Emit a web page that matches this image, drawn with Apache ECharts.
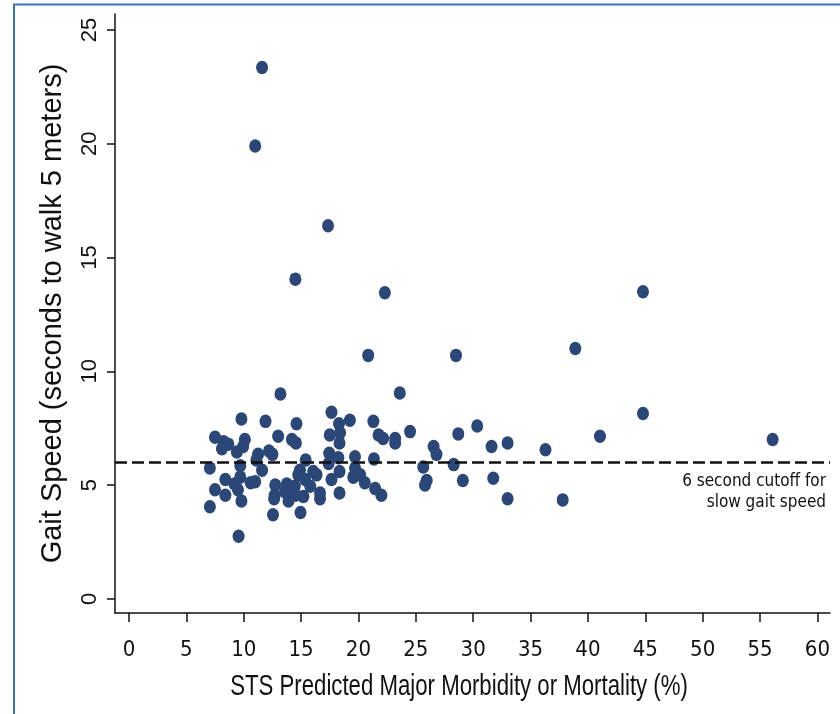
<!DOCTYPE html>
<html>
<head>
<meta charset="utf-8">
<title>Gait speed vs STS predicted risk</title>
<script src="https://cdn.jsdelivr.net/npm/echarts@6/dist/echarts.min.js"></script>
<style>
  html, body { margin: 0; padding: 0; background: #ffffff; }
  #chart { width: 840px; height: 714px; }
</style>
</head>
<body>
<div id="chart"></div>
<script>
// STS predicted major morbidity or mortality (%) for each patient
const stsRisk = [
  11.6, 11.0, 17.35, 14.5, 22.3, 44.8, 20.85, 28.5, 38.9, 13.2,
  23.6, 44.8, 41.05, 56.1, 36.3, 37.8, 33.0, 33.0, 31.6, 31.75,
  30.35, 29.1, 28.7, 28.3, 26.55, 26.8, 25.65, 25.95, 25.8, 24.5,
  23.2, 23.2, 22.15, 21.75, 21.3, 21.35, 21.45, 22.0, 19.25, 18.3,
  17.65, 17.5, 18.4, 18.35, 17.45, 18.25, 19.7, 17.4, 18.35, 17.65,
  19.7, 20.15, 20.55, 19.55, 18.35, 15.4, 14.9, 14.75, 16.05, 16.35,
  15.35, 15.8, 14.45, 15.2, 16.65, 16.65, 14.95, 13.75, 13.6, 13.9,
  14.5, 12.75, 12.7, 12.65, 12.55, 14.6, 14.2, 14.55, 13.0, 11.9,
  9.8, 7.5, 8.25, 8.65, 8.1, 10.1, 9.95, 9.4, 11.25, 12.2,
  12.5, 11.1, 7.05, 9.7, 11.6, 8.4, 7.5, 7.05, 8.4, 9.2,
  9.7, 9.5, 9.8, 9.55, 10.6, 11.0
];
// Seconds to walk 5 meters, same order as stsRisk
const gaitSeconds = [
  23.35, 19.9, 16.4, 14.05, 13.45, 13.5, 10.7, 10.7, 11.0, 9.0,
  9.05, 8.15, 7.15, 7.0, 6.55, 4.35, 4.4, 6.85, 6.7, 5.3,
  7.6, 5.2, 7.25, 5.9, 6.7, 6.35, 5.8, 5.2, 5.0, 7.35,
  7.05, 6.85, 7.05, 7.2, 7.8, 6.15, 4.85, 4.55, 7.85, 7.7,
  8.2, 7.2, 7.3, 6.85, 6.4, 6.2, 6.25, 5.95, 5.6, 5.25,
  5.75, 5.45, 5.1, 5.35, 4.65, 6.1, 5.65, 5.45, 5.6, 5.45,
  5.25, 4.95, 4.95, 4.5, 4.65, 4.4, 3.8, 5.05, 4.7, 4.3,
  4.55, 5.0, 4.55, 4.4, 3.7, 7.7, 7.0, 6.85, 7.15, 7.8,
  7.9, 7.1, 6.9, 6.8, 6.6, 7.0, 6.7, 6.45, 6.35, 6.5,
  6.35, 6.1, 5.75, 5.85, 5.65, 5.25, 4.8, 4.05, 4.55, 5.05,
  5.35, 4.8, 4.3, 2.75, 5.1, 5.15
];

const xTicks = [0, 5, 10, 15, 20, 25, 30, 35, 40, 45, 50, 55, 60];
const yTicks = [0, 5, 10, 15, 20, 25];
const cutoffSeconds = 6;
const cutoffLabel = '6 second cutoff for\nslow gait speed';
const xTitle = 'STS Predicted Major Morbidity or Mortality (%)';
const yTitle = 'Gait Speed (seconds to walk 5 meters)';

const points = stsRisk.map((x, i) => [x, gaitSeconds[i]]);

const narrow = '"Liberation Sans Narrow", "Arial Narrow", "DejaVu Sans Condensed", "Liberation Sans", sans-serif';
const regular = '"Liberation Sans", Arial, sans-serif';
const ink = '#111111';

const chart = echarts.init(document.getElementById('chart'), null, { renderer: 'canvas' });

chart.setOption({
  backgroundColor: '#ffffff',
  animation: false,
  grid: { left: 115, right: 10, top: 14, bottom: 101, containLabel: false },
  xAxis: {
    type: 'value',
    min: -1.22,
    max: 61.1,
    axisLine: { show: true, onZero: false, lineStyle: { color: ink, width: 1.5 } },
    axisTick: { show: true, length: 9, customValues: xTicks, lineStyle: { color: ink, width: 1.5 } },
    axisLabel: { customValues: xTicks, margin: 26, fontFamily: narrow, fontSize: 22, color: ink },
    splitLine: { show: false }
  },
  yAxis: {
    type: 'value',
    min: -0.62,
    max: 25.7,
    name: yTitle,
    nameLocation: 'middle',
    nameRotate: 90,
    nameGap: 48,
    nameTextStyle: { fontFamily: regular, fontSize: 29, color: ink },
    axisLine: { show: true, onZero: false, lineStyle: { color: ink, width: 1.5 } },
    axisTick: { show: true, length: 8, customValues: yTicks, lineStyle: { color: ink, width: 1.5 } },
    axisLabel: { customValues: yTicks, rotate: 90, margin: 14, fontFamily: regular, fontSize: 22, color: ink },
    splitLine: { show: false }
  },
  series: [{
    type: 'scatter',
    data: points,
    symbol: 'path://M1,0A1,1 0 1,1 -1,0A1,1 0 1,1 1,0Z',
    symbolSize: [12, 13.5],
    itemStyle: { color: '#2b4777', opacity: 1 },
    markLine: {
      silent: true,
      symbol: ['none', 'none'],
      lineStyle: { color: ink, width: 2.6, type: [12, 5] },
      label: {
        show: true,
        position: 'insideEndBottom',
        formatter: cutoffLabel,
        fontFamily: narrow,
        fontSize: 17,
        lineHeight: 21,
        color: ink,
        distance: [4, 9]
      },
      data: [{ yAxis: cutoffSeconds }]
    }
  }],
  graphic: [
    {
      // x-axis title, set in a condensed face
      type: 'text',
      silent: true,
      x: 459,
      y: 702,
      scaleX: 0.74,
      style: {
        text: xTitle,
        fontFamily: regular,
        fontSize: 30,
        fill: ink,
        align: 'center',
        verticalAlign: 'bottom'
      }
    },
    {
      type: 'rect',
      silent: true,
      shape: { x: 14, y: 4.5, width: 840, height: 740 },
      style: { fill: 'none', stroke: '#3d6fc0', lineWidth: 2 }
    }
  ]
});
</script>
</body>
</html>
